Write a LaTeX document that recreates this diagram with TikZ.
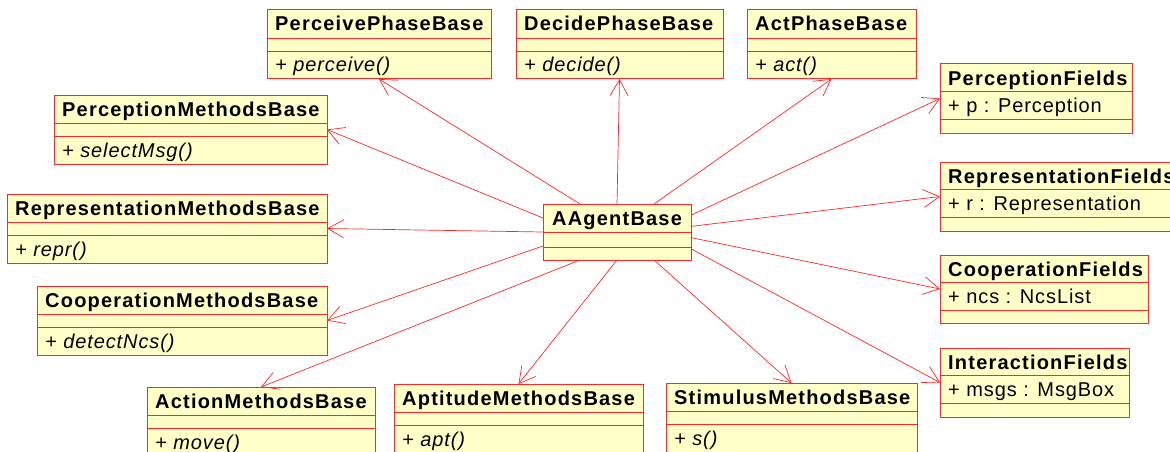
\documentclass[tikz,border=0pt]{standalone}
\usepackage{fontspec}
\usetikzlibrary{arrows.meta,calc}
\newfontfamily\umltitlefam{Liberation Sans}[LetterSpace=6]
\newfontfamily\umltextfam{Liberation Sans}[LetterSpace=4.5]
\definecolor{umlred}{RGB}{255,40,40}
\definecolor{umlfill}{RGB}{255,255,200}
\tikzset{
  x=1pt, y=-1pt,
  classbox/.style={rectangle, draw=umlred, fill=umlfill, line width=1pt, inner sep=0pt, outer sep=0pt, anchor=north west},
  divider/.style={draw=umlred, line width=0.8pt},
  titletext/.style={anchor=base west, inner sep=0pt, font=\umltitlefam\bfseries\fontsize{20}{24}\selectfont},
  attrtext/.style={anchor=base west, inner sep=0pt, font=\umltextfam\fontsize{20}{24}\selectfont},
  methtext/.style={anchor=base west, inner sep=0pt, font=\umltextfam\itshape\fontsize{20}{24}\selectfont},
  dep/.style={draw=umlred, line width=0.7pt, -{Straight Barb[length=16pt, width=18pt, line width=0.7pt]}},
}
% name, L, T, R, B, title, method
\newcommand\UMLmethods[7]{%
  \node[classbox, minimum width={#4-#2}, minimum height={#5-#3}] (#1) at (#2,#3) {};
  \draw[divider] (#2,#3+28) -- (#4,#3+28);
  \draw[divider] (#2,#3+41) -- (#4,#3+41);
  \node[titletext] (#1-t) at (#2+8,#3+21) {#6};
  \node[methtext] (#1-m) at (#2+8,#3+62) {#7};
}
% name, L, T, R, B, title, attribute
\newcommand\UMLfields[7]{%
  \node[classbox, minimum width={#4-#2}, minimum height={#5-#3}] (#1) at (#2,#3) {};
  \draw[divider] (#2,#3+27) -- (#4,#3+27);
  \draw[divider] (#2,#3+55) -- (#4,#3+55);
  \node[titletext] (#1-t) at (#2+8,#3+21) {#6};
  \node[attrtext] (#1-a) at (#2+8,#3+48) {#7};
}
\begin{document}
\begin{tikzpicture}
\useasboundingbox (0,0) rectangle (1170,452);
\clip (0,0) rectangle (1170,452);

% central class
\node[classbox, minimum width=148, minimum height=56] (agent) at (543,204) {};
\draw[divider] (543,232) -- (691,232);
\draw[divider] (543,247) -- (691,247);
\node[titletext] (agent-t) at (552,225) {AAgentBase};

% phase classes
\UMLmethods{perceive}{267}{10}{491}{79}{PerceivePhaseBase}{+ perceive()}
\UMLmethods{decide}{516}{10}{723}{79}{DecidePhaseBase}{+ decide()}
\UMLmethods{act}{747}{10}{916}{79}{ActPhaseBase}{+ act()}

% left column
\UMLmethods{percm}{54}{95}{327}{164}{PerceptionMethodsBase}{+ selectMsg()}
\UMLmethods{reprm}{7}{194}{327}{263}{RepresentationMethodsBase}{+ repr()}
\UMLmethods{coopm}{37}{286}{327}{355}{CooperationMethodsBase}{+ detectNcs()}

% bottom row
\UMLmethods{actionm}{147}{387}{375}{458}{ActionMethodsBase}{+ move()}
\UMLmethods{aptm}{394}{384}{643}{458}{AptitudeMethodsBase}{+ apt()}
\UMLmethods{stimm}{666}{383}{917}{458}{StimulusMethodsBase}{+ s()}

% right column
\UMLfields{percf}{940}{64}{1132}{133}{PerceptionFields}{+ p : Perception}
\UMLfields{reprf}{940}{162}{1180}{231}{RepresentationFields}{+ r : Representation}
\UMLfields{coopf}{940}{255}{1148}{323}{CooperationFields}{+ ncs : NcsList}
\UMLfields{interf}{940}{348}{1129}{417}{InteractionFields}{+ msgs : MsgBox}

% dependencies: ports spread evenly along the sides of AAgentBase
\draw[dep] ($(agent.north west)!0.25!(agent.north east)$) -- (perceive.south);
\draw[dep] (agent.north) -- (decide.south);
\draw[dep] ($(agent.north west)!0.75!(agent.north east)$) -- (act.south);

\draw[dep] ($(agent.north east)!0.2!(agent.south east)$) -- (percf.west);
\draw[dep] ($(agent.north east)!0.4!(agent.south east)$) -- (reprf.west);
\draw[dep] ($(agent.north east)!0.6!(agent.south east)$) -- (coopf.west);
\draw[dep] ($(agent.north east)!0.8!(agent.south east)$) -- (interf.west);

\draw[dep] ($(agent.south west)!0.75!(agent.south east)$) -- (stimm.north);
\draw[dep] (agent.south) -- (aptm.north);
\draw[dep] ($(agent.south west)!0.25!(agent.south east)$) -- (actionm.north);

\draw[dep] ($(agent.north west)!0.25!(agent.south west)$) -- (percm.east);
\draw[dep] (agent.west) -- (reprm.east);
\draw[dep] ($(agent.north west)!0.75!(agent.south west)$) -- (coopm.east);
\end{tikzpicture}
\end{document}
